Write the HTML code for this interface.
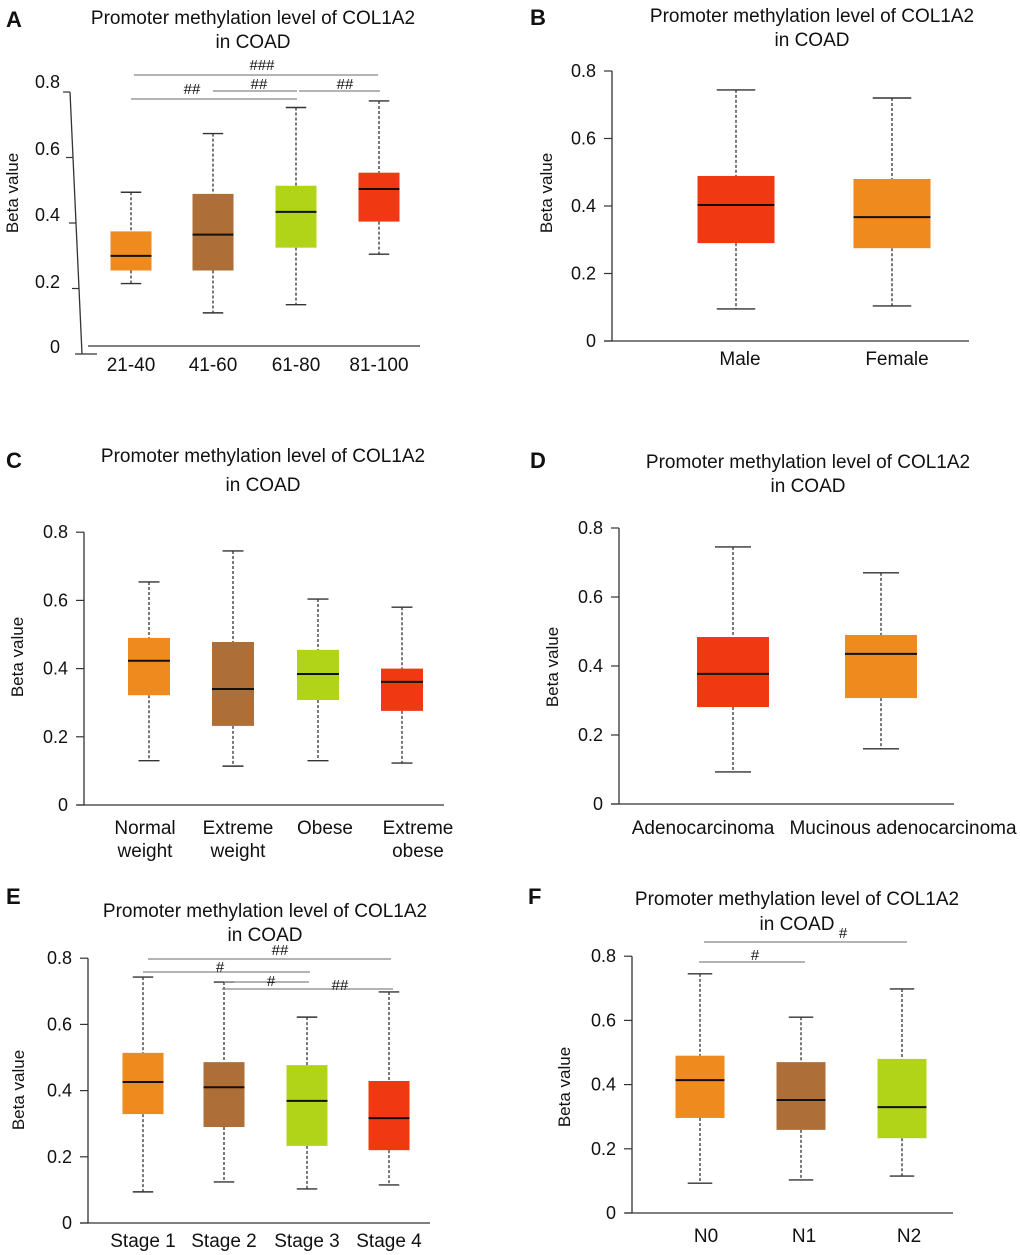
<!DOCTYPE html>
<html><head><meta charset="utf-8"><style>
html,body{margin:0;padding:0;background:#fff}
svg{display:block;font-family:"Liberation Sans","DejaVu Sans",sans-serif}
</style></head><body>
<svg id="fig" width="1020" height="1255" viewBox="0 0 1020 1255" xmlns="http://www.w3.org/2000/svg"></svg>
<script>
// ---- data ----
const aCats=["21-40","41-60","61-80","81-100"];
const aMax=[0.49,0.67,0.75,0.77];const aQ3=[0.37,0.485,0.51,0.55];const aMed=[0.295,0.36,0.43,0.50];const aQ1=[0.25,0.25,0.32,0.40];const aMin=[0.21,0.12,0.145,0.30];
const bCats=["Male","Female"];
const bMax=[0.744,0.72];const bQ3=[0.489,0.48];const bMed=[0.403,0.367];const bQ1=[0.29,0.275];const bMin=[0.095,0.104];
const cCats=[["Normal","weight"],["Extreme","weight"],["Obese"],["Extreme","obese"]];
const cMax=[0.654,0.745,0.604,0.58];const cQ3=[0.49,0.478,0.455,0.40];const cMed=[0.423,0.34,0.384,0.361];const cQ1=[0.322,0.232,0.308,0.276];const cMin=[0.13,0.114,0.13,0.123];
const dCats=["Adenocarcinoma","Mucinous adenocarcinoma"];
const dMax=[0.745,0.67];const dQ3=[0.484,0.49];const dMed=[0.377,0.435];const dQ1=[0.281,0.307];const dMin=[0.093,0.16];
const eCats=["Stage 1","Stage 2","Stage 3","Stage 4"];
const eMax=[0.743,0.728,0.622,0.698];const eQ3=[0.514,0.486,0.477,0.429];const eMed=[0.426,0.41,0.369,0.317];const eQ1=[0.329,0.29,0.233,0.22];const eMin=[0.094,0.124,0.103,0.115];
const fCats=["N0","N1","N2"];
const fMax=[0.745,0.61,0.698];const fQ3=[0.49,0.47,0.48];const fMed=[0.414,0.352,0.33];const fQ1=[0.296,0.259,0.233];const fMin=[0.093,0.103,0.115];
const yTicks=[0,0.2,0.4,0.6,0.8];
const yTickLabels=["0","0.2","0.4","0.6","0.8"];

const OR="#EF8A1F",BR="#AD6E37",GR="#B1D418",RD="#F03812";
const svg=document.getElementById('fig');
const NS="http://www.w3.org/2000/svg";
function el(tag,attrs,parent){const e=document.createElementNS(NS,tag);for(const k in attrs)e.setAttribute(k,attrs[k]);(parent||svg).appendChild(e);return e;}
function txt(s,x,y,size,parent,anchor,weight){const t=el('text',{x:x,y:y,'font-size':size,'text-anchor':anchor||'middle','fill':'#111'},parent);if(weight)t.setAttribute('font-weight',weight);t.textContent=s;return t;}

function panel(p){
  const g=el('g',{});
  
  
  const y=v=>p.y0-v*p.sc;
  const L=txt(p.id,p.lx,p.ly,22,g,'start','bold');
  
  
  p.title.forEach((s,i)=>{const t=txt(s,p.tx,p.ty+i*p.tdy,19,g);
    
    });
  if(p.slant){
    const ax=el('line',{x1:70,y1:92,x2:82,y2:354,stroke:'#333','stroke-width':1.3},g);
    
    
    el('line',{x1:75,y1:354,x2:97,y2:354,stroke:'#333','stroke-width':1.3},g);
    const labY=[347,282,215,149,82];
    yTicks.forEach((v,i)=>{const ty=92+(0.8-v)/0.8*262;const tx=70+(ty-92)/262*12;
      if(v>0)el('line',{x1:tx-7,y1:ty,x2:tx,y2:ty,stroke:'#333','stroke-width':1.2},g);
      const t=txt(yTickLabels[i],60,labY[i]+6,18,g,'end');
      
      });
  } else {
    const ax=el('line',{x1:p.ax,y1:y(0.8),x2:p.ax,y2:p.y0,stroke:'#333','stroke-width':1.3},g);
    
    
    yTicks.forEach((v,i)=>{el('line',{x1:p.ax-8,y1:y(v),x2:p.ax,y2:y(v),stroke:'#333','stroke-width':1.2},g);
      const t=txt(yTickLabels[i],p.ax-16,y(v)+6,18,g,'end');
      
      });
  }
  const xa=el('line',{x1:p.xa1,y1:p.xay,x2:p.xa2,y2:p.xay,stroke:'#333','stroke-width':1.3},g);
  
  
  const yt=txt('Beta value',0,0,17,g);
  yt.setAttribute('transform','translate('+p.yl[0]+','+p.yl[1]+') rotate(-90)');
  
  
  p.cats.forEach((c,i)=>{
    const cx=p.xs[i],w=p.bw;
    const bg=el('g',{},g);
    
    
    el('line',{x1:cx,y1:y(p.mx[i]),x2:cx,y2:y(p.q3[i]),stroke:'#333','stroke-width':1.3,'stroke-dasharray':'3,2'},bg);
    el('line',{x1:cx,y1:y(p.q1[i]),x2:cx,y2:y(p.mn[i]),stroke:'#333','stroke-width':1.3,'stroke-dasharray':'3,2'},bg);
    el('line',{x1:cx-w/4,y1:y(p.mx[i]),x2:cx+w/4,y2:y(p.mx[i]),stroke:'#333','stroke-width':1.4},bg);
    el('line',{x1:cx-w/4,y1:y(p.mn[i]),x2:cx+w/4,y2:y(p.mn[i]),stroke:'#333','stroke-width':1.4},bg);
    el('rect',{x:cx-w/2,y:y(p.q3[i]),width:w,height:y(p.q1[i])-y(p.q3[i]),fill:p.cols[i]},bg);
    el('line',{x1:cx-w/2,y1:y(p.md[i]),x2:cx+w/2,y2:y(p.md[i]),stroke:'#111','stroke-width':2},bg);
    const lines=Array.isArray(c)?c:[c];
    lines.forEach((s,j)=>{const t=txt(s,(p.lxs?p.lxs[i]:cx),p.xly+j*23,19,g);
      
      });
  });
  (p.sig||[]).forEach(s=>{
    const sg=el('g',{},g);
    
    
    el('line',{x1:s[0],y1:s[2],x2:s[1],y2:s[2],stroke:'#888','stroke-width':1.2},sg);
    txt(s[3],s[4],s[5],15,sg);
  });
}

panel({id:'A',lx:6,ly:27,title:['Promoter methylation level of COL1A2','in COAD'],tx:253,ty:24,tdy:24,
  slant:true,y0:352,sc:326,xa1:88,xa2:420,xay:346,yl:[18,193],
  cats:aCats,mx:aMax,q3:aQ3,md:aMed,q1:aQ1,mn:aMin,xs:[131,213,296,379],bw:41,cols:[OR,BR,GR,RD],xly:371,
  sig:[[134,378,75,'###',262,70],[131,297,99,'##',192,94],[213,297,91,'##',259,89],[299,380,91,'##',345,89]]});
panel({id:'B',lx:530,ly:25,title:['Promoter methylation level of COL1A2','in COAD'],tx:812,ty:22,tdy:24,
  ax:612,y0:341,sc:337.5,xa1:604,xa2:969,xay:341,yl:[552,193],
  cats:bCats,mx:bMax,q3:bQ3,md:bMed,q1:bQ1,mn:bMin,xs:[736,892],lxs:[740,897],bw:77,cols:[RD,OR],xly:365});
panel({id:'C',lx:6,ly:468,title:['Promoter methylation level of COL1A2','in COAD'],tx:263,ty:462,tdy:29,
  ax:84,y0:805,sc:341,xa1:77,xa2:444,xay:805,yl:[23,657],
  cats:cCats,mx:cMax,q3:cQ3,md:cMed,q1:cQ1,mn:cMin,xs:[149,233,318,402],lxs:[145,238,325,418],bw:42,cols:[OR,BR,GR,RD],xly:834});
panel({id:'D',lx:530,ly:468,title:['Promoter methylation level of COL1A2','in COAD'],tx:808,ty:468,tdy:24,
  ax:619,y0:804,sc:345,xa1:611,xa2:954,xay:804,yl:[558,667],
  cats:dCats,mx:dMax,q3:dQ3,md:dMed,q1:dQ1,mn:dMin,xs:[733,881],lxs:[703,903],bw:72,cols:[RD,OR],xly:834});
panel({id:'E',lx:6,ly:904,title:['Promoter methylation level of COL1A2','in COAD'],tx:265,ty:917,tdy:24,
  ax:88,y0:1223,sc:331,xa1:80,xa2:430,xay:1223,yl:[24,1090],
  cats:eCats,mx:eMax,q3:eQ3,md:eMed,q1:eQ1,mn:eMin,xs:[143,224,307,389],bw:41,cols:[OR,BR,GR,RD],xly:1247,
  sig:[[148,391,959,'##',280,955],[143,310,972,'#',220,972],[224,309,982,'#',271,986],[222,393,989,'##',340,990]]});
panel({id:'F',lx:528,ly:904,title:['Promoter methylation level of COL1A2','in COAD'],tx:797,ty:905,tdy:25,
  ax:632,y0:1213,sc:321,xa1:625,xa2:953,xay:1213,yl:[570,1087],
  cats:fCats,mx:fMax,q3:fQ3,md:fMed,q1:fQ1,mn:fMin,xs:[700,801,902],lxs:[706,804,909],bw:49,cols:[OR,BR,GR],xly:1242,
  sig:[[704,907,942,'#',843,938],[699,805,962,'#',755,960]]});
</script>
</body></html>
